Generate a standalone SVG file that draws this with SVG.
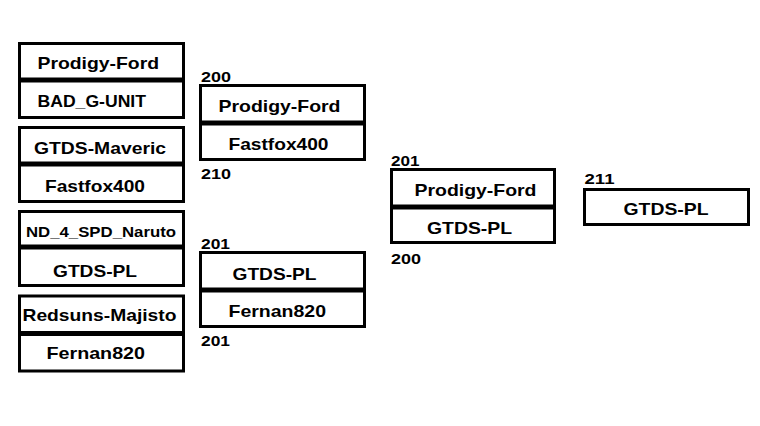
<svg xmlns="http://www.w3.org/2000/svg" width="760" height="426" viewBox="0 0 760 426">
<style>
.box{fill:#fff;stroke:#000;stroke-width:3}
.sep{stroke:#000;stroke-width:5}
.t{font-family:"Liberation Sans",Arial,sans-serif;font-weight:bold;font-size:17px;fill:#000}
.s{font-size:15px}
.n{font-family:"Liberation Sans",Arial,sans-serif;font-weight:bold;font-size:15px;fill:#000}
</style>
<rect width="760" height="426" fill="#fff"/>
<g id="r1-m1">
<rect class="box" x="19.5" y="43.5" width="164" height="74"/>
<line class="sep" x1="18" y1="80" x2="185" y2="80"/>
<text class="t" x="37.5" y="68.5" textLength="121.5" lengthAdjust="spacingAndGlyphs">Prodigy-Ford</text>
<text class="t" x="37.5" y="107" textLength="108.5" lengthAdjust="spacingAndGlyphs">BAD_G-UNIT</text>
</g>
<g id="r1-m2">
<rect class="box" x="19.5" y="127.5" width="164" height="74"/>
<line class="sep" x1="18" y1="164" x2="185" y2="164"/>
<text class="t" x="34" y="153.5" textLength="132" lengthAdjust="spacingAndGlyphs">GTDS-Maveric</text>
<text class="t" x="45" y="192" textLength="100" lengthAdjust="spacingAndGlyphs">Fastfox400</text>
</g>
<g id="r1-m3">
<rect class="box" x="19.5" y="211.5" width="164" height="74"/>
<line class="sep" x1="18" y1="247" x2="185" y2="247"/>
<text class="t s" x="26" y="236.5" textLength="150" lengthAdjust="spacingAndGlyphs">ND_4_SPD_Naruto</text>
<text class="t" x="53" y="276.5" textLength="84" lengthAdjust="spacingAndGlyphs">GTDS-PL</text>
</g>
<g id="r1-m4">
<rect class="box" x="19.5" y="296" width="164" height="75"/>
<line class="sep" x1="18" y1="333.5" x2="185" y2="333.5"/>
<text class="t" x="22.5" y="321" textLength="154" lengthAdjust="spacingAndGlyphs">Redsuns-Majisto</text>
<text class="t" x="46.5" y="359" textLength="98.5" lengthAdjust="spacingAndGlyphs">Fernan820</text>
</g>
<g id="r2-m1">
<rect class="box" x="200.5" y="85.5" width="164" height="74"/>
<line class="sep" x1="199" y1="123" x2="366" y2="123"/>
<text class="n" x="201" y="82" textLength="30" lengthAdjust="spacingAndGlyphs">200</text>
<text class="t" x="218.5" y="112" textLength="122" lengthAdjust="spacingAndGlyphs">Prodigy-Ford</text>
<text class="t" x="228.5" y="150" textLength="100" lengthAdjust="spacingAndGlyphs">Fastfox400</text>
<text class="n" x="201" y="179" textLength="30" lengthAdjust="spacingAndGlyphs">210</text>
</g>
<g id="r2-m2">
<rect class="box" x="200.5" y="252.5" width="164" height="74"/>
<line class="sep" x1="199" y1="290" x2="366" y2="290"/>
<text class="n" x="201" y="249" textLength="29" lengthAdjust="spacingAndGlyphs">201</text>
<text class="t" x="232.5" y="279.5" textLength="84" lengthAdjust="spacingAndGlyphs">GTDS-PL</text>
<text class="t" x="228.5" y="317" textLength="97.5" lengthAdjust="spacingAndGlyphs">Fernan820</text>
<text class="n" x="201" y="345.5" textLength="29" lengthAdjust="spacingAndGlyphs">201</text>
</g>
<g id="r3-m1">
<rect class="box" x="391.5" y="169.5" width="163" height="73"/>
<line class="sep" x1="390" y1="207" x2="556" y2="207"/>
<text class="n" x="391" y="165.5" textLength="28.5" lengthAdjust="spacingAndGlyphs">201</text>
<text class="t" x="414.5" y="195.5" textLength="122" lengthAdjust="spacingAndGlyphs">Prodigy-Ford</text>
<text class="t" x="427" y="233.5" textLength="85" lengthAdjust="spacingAndGlyphs">GTDS-PL</text>
<text class="n" x="391" y="263.5" textLength="30" lengthAdjust="spacingAndGlyphs">200</text>
</g>
<g id="winner">
<rect class="box" x="584.5" y="189.5" width="164" height="35"/>
<text class="n" x="584.5" y="184" textLength="30" lengthAdjust="spacingAndGlyphs">211</text>
<text class="t" x="623.5" y="215" textLength="85" lengthAdjust="spacingAndGlyphs">GTDS-PL</text>
</g>
</svg>
